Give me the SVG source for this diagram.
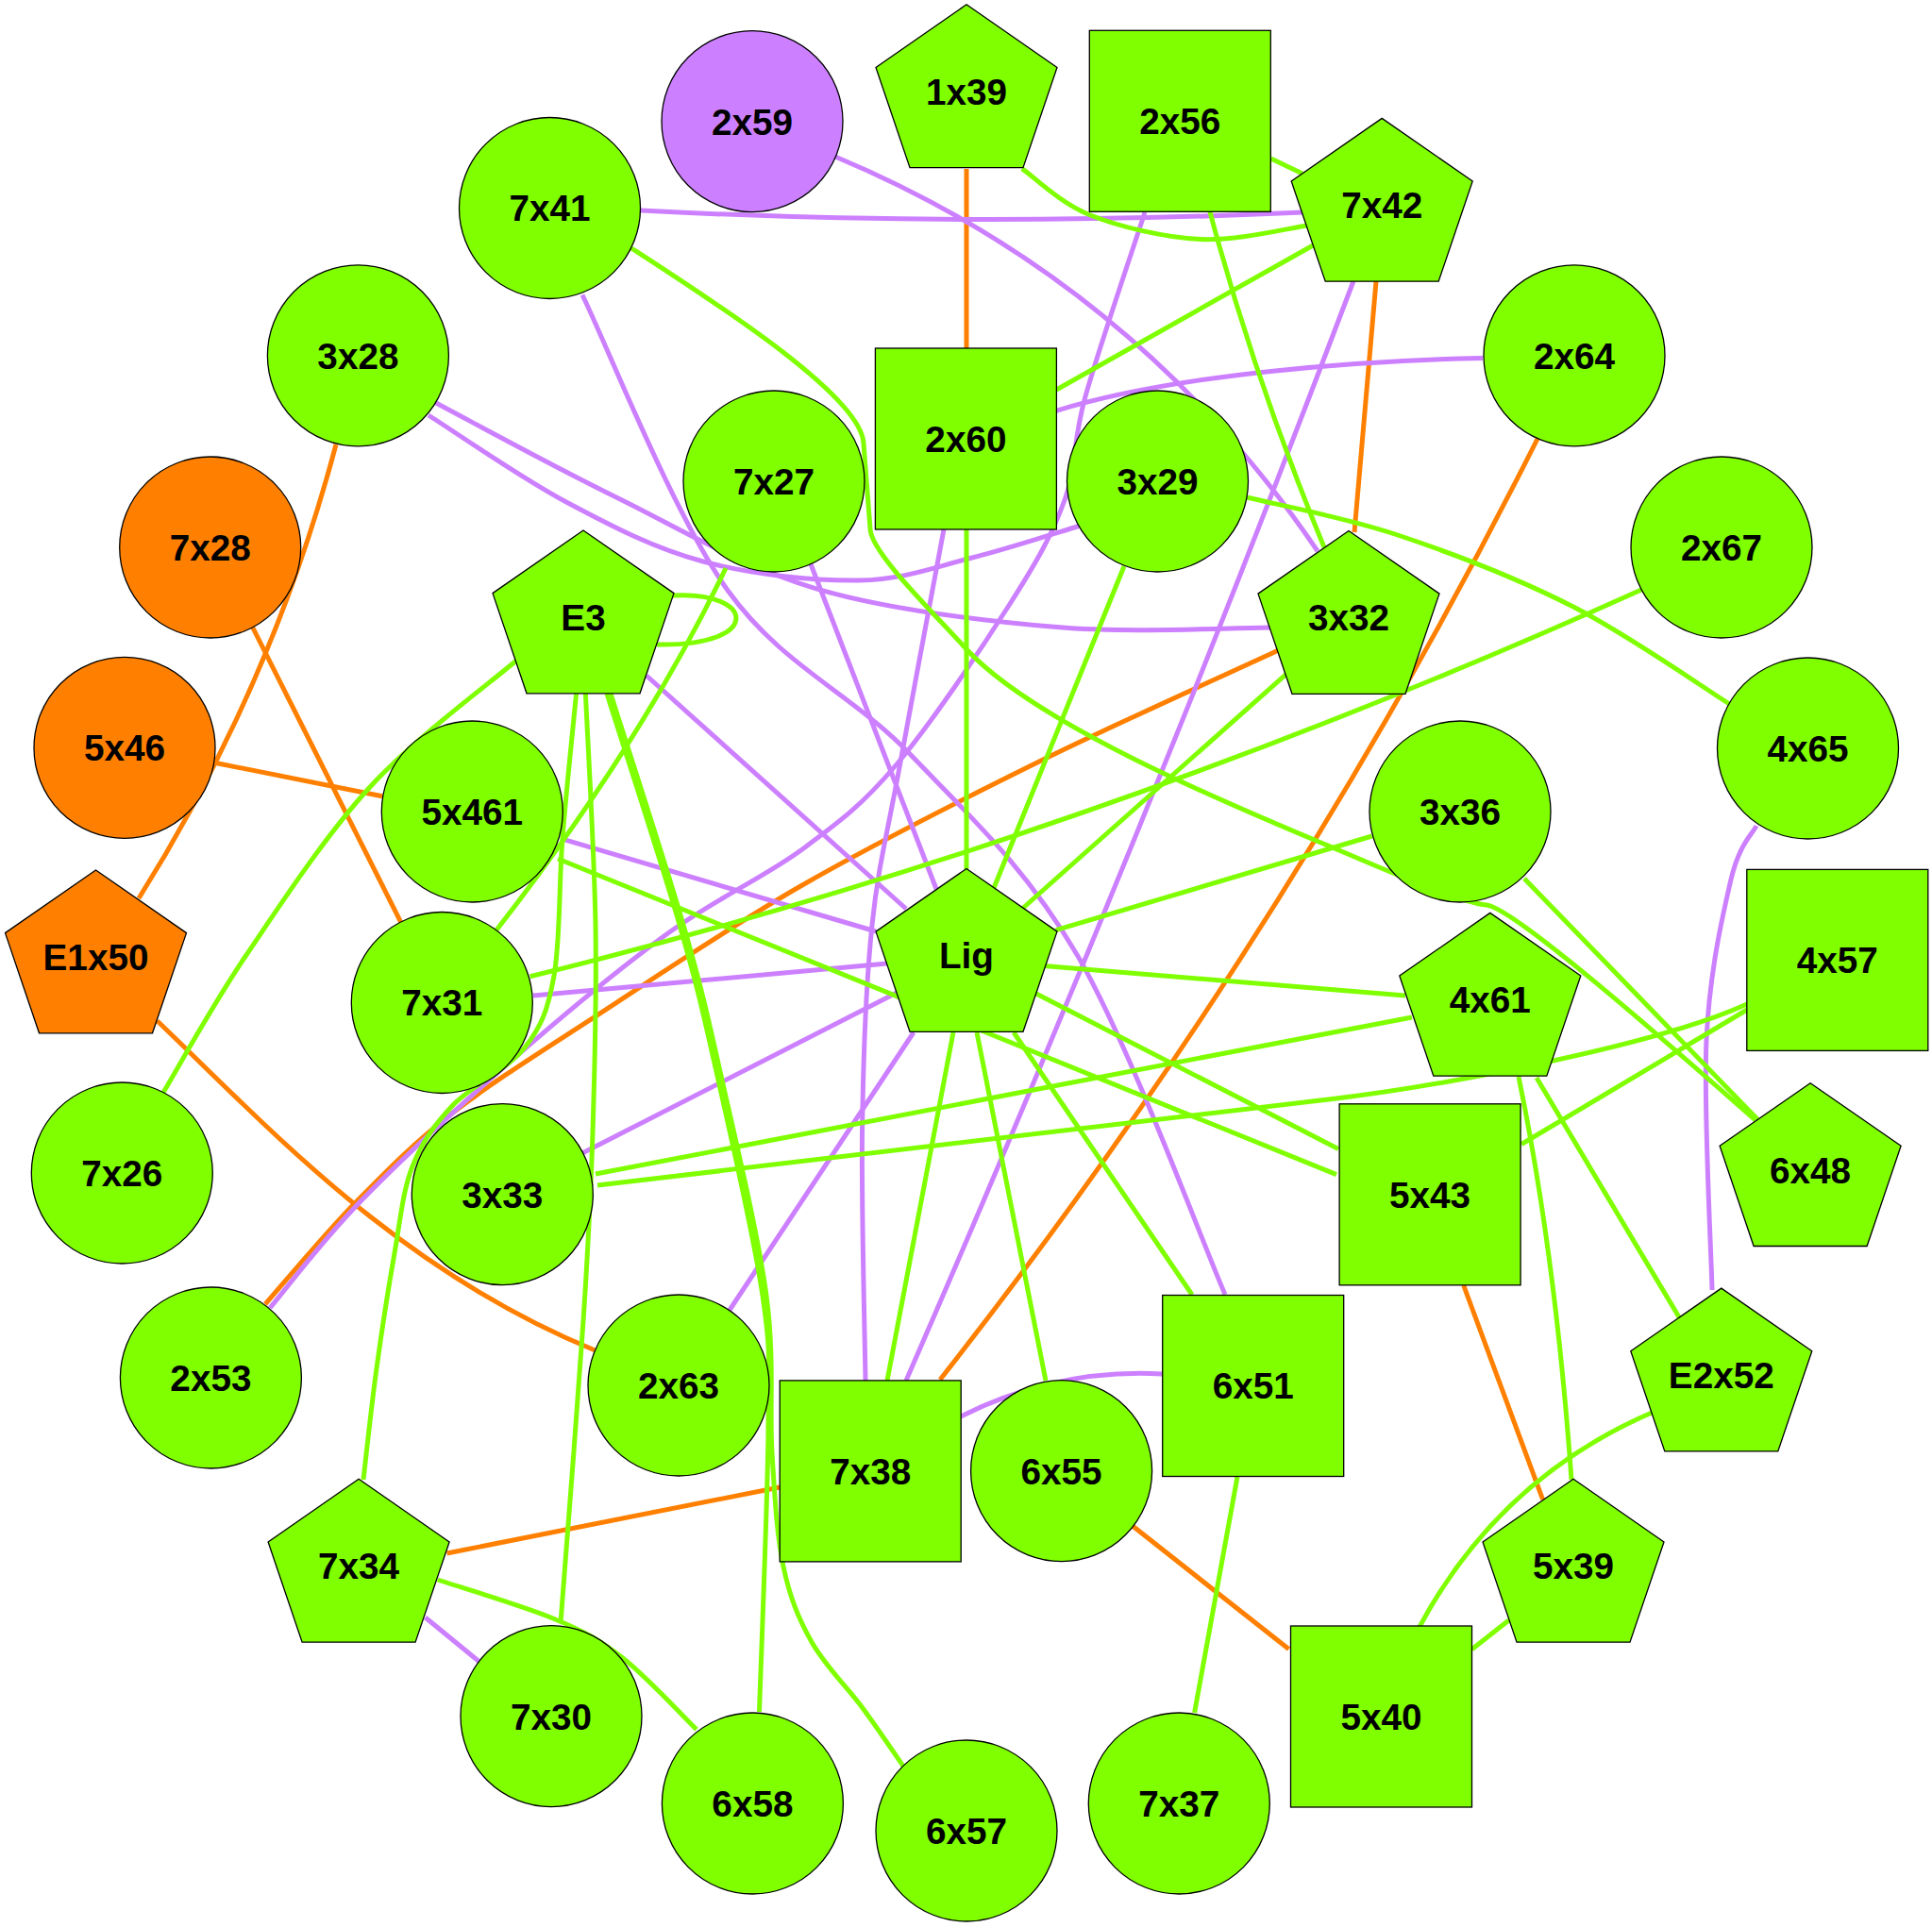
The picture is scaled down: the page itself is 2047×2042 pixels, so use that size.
<svg xmlns="http://www.w3.org/2000/svg" width="2047" height="2042" viewBox="0 0 2047 2042">
<style>
.n{stroke:#000;stroke-width:1.3}
.g{fill:#7fff00}.p{fill:#cc80ff}.o{fill:#ff8000}
text{font-family:"Liberation Sans",Arial,sans-serif;font-weight:bold;font-size:38.7px;text-anchor:middle;fill:#000}
.e{fill:none;stroke-width:5}
.eg{stroke:#7fff00}.ep{stroke:#cc80ff}.eo{stroke:#ff8000}
</style>
<rect width="2047" height="2042" fill="#fff"/>
<g id="edges">
<path class="e eo" d="M1024,179 L1024,369.6"/>
<path class="e eo" d="M1458,298 L1435,564"/>
<path class="e eo" d="M1630,463 Q1363,995 996,1462"/>
<path class="e eo" d="M1353.6,689.6 C1311.3,709.3 1183.9,766.1 1100,807.5 C1016.1,848.9 927.9,893.3 850,938 C772.1,982.7 694.4,1035.6 632.7,1075.8 C571,1116 522.8,1145.8 480,1179 C437.2,1212.2 409.2,1241.2 376,1275 C342.8,1308.8 296.8,1364.2 281,1382"/>
<path class="e eo" d="M356,471 Q288,727.5 147,952"/>
<path class="e eo" d="M267.8,665 L424.5,976.8"/>
<path class="e eo" d="M228.6,808.5 L405,843.7"/>
<path class="e eo" d="M166.5,1081.7 C280,1190 420,1345 630,1430.8"/>
<path class="e eo" d="M473.5,1646 L826,1576"/>
<path class="e eo" d="M1200,1617 L1365.5,1747.5"/>
<path class="e eo" d="M1550.7,1362 L1634.6,1589"/>
<path class="e ep" d="M885,166 Q1202.5,299 1396,584"/>
<path class="e ep" d="M679,223 Q1024,241 1380,225"/>
<path class="e ep" d="M617,312.5 C642.6,364.6 712.8,544 770.6,625 C828.4,706 901.8,734 963.6,798.6 C1025.4,863.2 1085.9,917 1141.6,1012.5 C1197.3,1108 1271.9,1311.9 1298,1371.8"/>
<path class="e ep" d="M454,440 C478.3,455.3 551.5,506.2 600,532 C648.5,557.8 693.3,581.2 745,595 C796.7,608.8 862.5,615.7 910,615 C957.5,614.3 991.2,600.6 1030,591 C1068.8,581.4 1124.2,563.1 1143,557.5"/>
<path class="e ep" d="M460,426 C492.2,442.8 585.7,494 653,527 C720.3,560 786.2,600.6 864,623.6 C941.8,646.6 1039.7,657.7 1120,664.6 C1200.3,671.5 1308.3,664.9 1346,665"/>
<path class="e ep" d="M1571,379.5 C1450,382 1250,395 1119,435.3"/>
<path class="e ep" d="M1213,225 C1202.5,257.5 1164.2,369.2 1150,420 C1135.8,470.8 1141.3,493.3 1128,530 C1114.7,566.7 1099.7,593.3 1070,640 C1040.3,686.7 986.7,766.7 950,810 C913.3,853.3 890.2,870.3 850,900 C809.8,929.7 759.3,951.7 709,988 C658.8,1024.3 602.7,1070.8 548.5,1118 C494.3,1165.2 427.75,1226.3 384,1271 C340.25,1315.7 302.3,1366.8 286,1386"/>
<path class="e ep" d="M1434,298 Q1214,880 960,1463"/>
<path class="e ep" d="M1000,561 C992.2,603 965.7,743.2 953,813 C940.3,882.8 930.6,916.5 924,980 C917.4,1043.5 914.8,1113.5 913.6,1194 C912.4,1274.5 916.4,1418.2 917,1463"/>
<path class="e ep" d="M856.4,591 L992,942"/>
<path class="e ep" d="M685,716 L960,963"/>
<path class="e ep" d="M597.6,889.7 L928,987"/>
<path class="e ep" d="M565,1055 L940,1021"/>
<path class="e ep" d="M950,1052 L617,1222"/>
<path class="e ep" d="M968,1094 L772.5,1389"/>
<path class="e ep" d="M1861,875 C1856.5,884.5 1842.8,894.2 1834,932 C1825.2,969.8 1811.3,1029.5 1808,1102 C1804.7,1174.5 1813,1322.8 1814,1367"/>
<path class="e ep" d="M1018,1501 Q1120,1450 1231,1456"/>
<path class="e ep" d="M450.6,1714 L508,1761"/>
<path class="e eg" d="M1082.8,178.6 C1094.8,186.8 1123.1,215.2 1154.6,227.7 C1186.1,240.2 1233.35,251.75 1272,253.6 C1310.65,255.45 1367.4,241.3 1386.5,238.8"/>
<path class="e eg" d="M1346.6,168 L1380,184"/>
<path class="e eg" d="M1282,224.6 Q1329,401 1403,580"/>
<path class="e eg" d="M1393,259 L1119.3,413"/>
<path class="e eg" d="M669,263 C760,322 913,420 915,470 L922,560 C922,585 990,650 1024,688 C1100,770 1314,857 1414,899 C1464,920 1545,956 1575,959 C1605,962 1780,1117 1860,1187"/>
<path class="e eg" d="M1024,561 L1024,921"/>
<path class="e eg" d="M1191,600 L1053,941"/>
<path class="e eg" d="M1321,527 C1347.7,533.7 1423.3,547.7 1481,567 C1538.7,586.3 1608.2,613 1667,643 C1725.8,673 1806.2,729.7 1834,747"/>
<path class="e eg" d="M1362.5,714.6 L1083,963"/>
<path class="e eg" d="M1739,625 Q1150,890 561.6,1034.8"/>
<path class="e eg" d="M1453.6,886 L1118.7,985.7"/>
<path class="e eg" d="M1615,931 L1863,1187"/>
<path class="e eg" d="M1100,1023 L1489,1055"/>
<path class="e eg" d="M1096,1052 L1418,1217.5"/>
<path class="e eg" d="M1074,1094 L1263,1372"/>
<path class="e eg" d="M1010,1094 L940,1463"/>
<path class="e eg" d="M1035,1094 L1108,1463"/>
<path class="e eg" d="M1496,1078 L631,1244"/>
<path class="e eg" d="M1851,1064 C1750,1110 1516,1152 1416,1164 L633,1256"/>
<path class="e eg" d="M1851,1070 L1612,1212.5"/>
<path class="e eg" d="M1609,1141 Q1648,1330 1665,1568"/>
<path class="e eg" d="M1628,1142 L1781.5,1400"/>
<path class="e eg" d="M1750,1497 Q1588,1567 1504,1724"/>
<path class="e eg" d="M1598.6,1717 L1559.5,1747.7"/>
<path class="e eg" d="M1311,1565 L1265.6,1815"/>
<path class="e eg" d="M713,631 C800,626 810,685 696,683"/>
<path class="e eg" d="M547,700 C521.2,722.3 439.7,782 392,834 C344.3,886 297.5,958.1 261,1012 C224.5,1065.9 187.7,1133.3 173,1157.6"/>
<path class="e eg" d="M610.6,735 C608.2,760.5 599.9,838.2 596,888 C592.1,937.8 593.7,997 587,1034 C580.3,1071 573.8,1087.2 556,1110 C538.2,1132.8 499.8,1150 480,1171 C460.2,1192 447.3,1209.8 437,1236 C426.7,1262.2 424.3,1292.3 418,1328 C411.7,1363.7 404.5,1410 399,1450 C393.5,1490 387.3,1548.3 385,1568"/>
<path class="e eg" d="M620.4,735 C622.2,775.8 629.7,902.5 631,980 C632.3,1057.5 630.2,1130 628,1200 C625.8,1270 623.7,1313.3 618,1400 C612.3,1486.7 598,1666.7 594,1720"/>
<path class="e eg" d="M643,735 C655.8,775.8 700.5,912.5 720,980 C739.5,1047.5 745.3,1074.5 760,1140 C774.7,1205.5 799,1310.5 808,1373 C817,1435.5 814.6,1441.5 814,1515 C813.4,1588.5 806.1,1764.2 804.5,1814"/>
<path class="e eg" d="M647,735 C659.8,775.8 704.5,912.5 724,980 C743.5,1047.5 749.3,1074.5 764,1140 C778.7,1205.5 803,1306.3 812,1373 C821,1439.7 815,1492.2 818,1540 C821,1587.8 823,1626.7 830,1660 C837,1693.3 846,1715 860,1740 C874,1765 897.8,1788.1 914,1810 C930.2,1831.9 949.8,1861.3 957,1871.5"/>
<path class="e eg" d="M769,602 Q681,786 525.7,986"/>
<path class="e eg" d="M591,910 L1416,1244.6"/>
<path class="e eg" d="M463.7,1674 C484.4,1681 555.15,1701.9 587.8,1715.7 C620.45,1729.5 634.6,1737.2 659.6,1756.7 C684.6,1776.2 724.9,1820 738,1832.6"/>
</g>
<g id="node-2x59"><circle class="n p" cx="797" cy="128.6" r="96"/><text x="797" y="142.5">2x59</text></g>
<g id="node-1x39"><polygon class="n g" points="1024,4.8 1120,71.4 1084,177.6 964,177.6 928,71.4"/><text x="1024" y="110.7">1x39</text></g>
<g id="node-2x56"><rect class="n g" x="1154.3" y="32.3" width="192" height="192"/><text x="1250.3" y="142.2">2x56</text></g>
<g id="node-7x42"><polygon class="n g" points="1464.2,125.4 1560.2,192 1524.2,298.2 1404.2,298.2 1368.2,192"/><text x="1464.2" y="231.3">7x42</text></g>
<g id="node-7x41"><circle class="n g" cx="582.5" cy="220.5" r="96"/><text x="582.5" y="234.4">7x41</text></g>
<g id="node-3x28"><circle class="n g" cx="379.4" cy="376.8" r="96"/><text x="379.4" y="390.7">3x28</text></g>
<g id="node-2x64"><circle class="n g" cx="1668" cy="376.8" r="96"/><text x="1668" y="390.7">2x64</text></g>
<g id="node-7x27"><circle class="n g" cx="820" cy="510" r="96"/><text x="820" y="523.9">7x27</text></g>
<g id="node-2x60"><rect class="n g" x="927.4" y="369" width="192" height="192"/><text x="1023.4" y="478.9">2x60</text></g>
<g id="node-3x29"><circle class="n g" cx="1226.5" cy="510" r="96"/><text x="1226.5" y="523.9">3x29</text></g>
<g id="node-7x28"><circle class="n o" cx="222.7" cy="580" r="96"/><text x="222.7" y="593.9">7x28</text></g>
<g id="node-2x67"><circle class="n g" cx="1824" cy="580" r="96"/><text x="1824" y="593.9">2x67</text></g>
<g id="node-E3"><polygon class="n g" points="618,562 714,628.6 678,734.8 558,734.8 522,628.6"/><text x="618" y="667.9">E3</text></g>
<g id="node-3x32"><polygon class="n g" points="1429,562.5 1525,629.1 1489,735.3 1369,735.3 1333,629.1"/><text x="1429" y="668.4">3x32</text></g>
<g id="node-5x46"><circle class="n o" cx="132" cy="792.4" r="96"/><text x="132" y="806.3">5x46</text></g>
<g id="node-4x65"><circle class="n g" cx="1915.5" cy="793" r="96"/><text x="1915.5" y="806.9">4x65</text></g>
<g id="node-5x461"><circle class="n g" cx="500.3" cy="860" r="96"/><text x="500.3" y="873.9">5x461</text></g>
<g id="node-3x36"><circle class="n g" cx="1547" cy="860" r="96"/><text x="1547" y="873.9">3x36</text></g>
<g id="node-E1x50"><polygon class="n o" points="101.5,922 197.5,988.6 161.5,1094.8 41.5,1094.8 5.5,988.6"/><text x="101.5" y="1027.9">E1x50</text></g>
<g id="node-Lig"><polygon class="n g" points="1024,920.5 1120,987.1 1084,1093.3 964,1093.3 928,987.1"/><text x="1024" y="1026.4">Lig</text></g>
<g id="node-4x57"><rect class="n g" x="1850.8" y="921.4" width="192" height="192"/><text x="1946.8" y="1031.3">4x57</text></g>
<g id="node-7x31"><circle class="n g" cx="468.3" cy="1062.5" r="96"/><text x="468.3" y="1076.4">7x31</text></g>
<g id="node-4x61"><polygon class="n g" points="1578.8,967.4 1674.8,1034 1638.8,1140.2 1518.8,1140.2 1482.8,1034"/><text x="1578.8" y="1073.3">4x61</text></g>
<g id="node-7x26"><circle class="n g" cx="129.3" cy="1243" r="96"/><text x="129.3" y="1256.9">7x26</text></g>
<g id="node-6x48"><polygon class="n g" points="1918.1,1147.7 2014.1,1214.3 1978.1,1320.5 1858.1,1320.5 1822.1,1214.3"/><text x="1918.1" y="1253.6">6x48</text></g>
<g id="node-3x33"><circle class="n g" cx="532.3" cy="1265.6" r="96"/><text x="532.3" y="1279.5">3x33</text></g>
<g id="node-5x43"><rect class="n g" x="1419.1" y="1169.8" width="192" height="192"/><text x="1515.1" y="1279.7">5x43</text></g>
<g id="node-2x53"><circle class="n g" cx="223.4" cy="1460" r="96"/><text x="223.4" y="1473.9">2x53</text></g>
<g id="node-2x63"><circle class="n g" cx="719" cy="1468" r="96"/><text x="719" y="1481.9">2x63</text></g>
<g id="node-6x51"><rect class="n g" x="1231.7" y="1372.5" width="192" height="192"/><text x="1327.7" y="1482.4">6x51</text></g>
<g id="node-E2x52"><polygon class="n g" points="1823.8,1365.1 1919.8,1431.7 1883.8,1537.9 1763.8,1537.9 1727.8,1431.7"/><text x="1823.8" y="1471">E2x52</text></g>
<g id="node-7x38"><rect class="n g" x="826.2" y="1462.9" width="192" height="192"/><text x="922.2" y="1572.8">7x38</text></g>
<g id="node-6x55"><circle class="n g" cx="1124.6" cy="1558.7" r="96"/><text x="1124.6" y="1572.6">6x55</text></g>
<g id="node-7x34"><polygon class="n g" points="380.1,1567.3 476.1,1633.9 440.1,1740.1 320.1,1740.1 284.1,1633.9"/><text x="380.1" y="1673.2">7x34</text></g>
<g id="node-5x39"><polygon class="n g" points="1667,1567.3 1763,1633.9 1727,1740.1 1607,1740.1 1571,1633.9"/><text x="1667" y="1673.2">5x39</text></g>
<g id="node-7x30"><circle class="n g" cx="584" cy="1818.6" r="96"/><text x="584" y="1832.5">7x30</text></g>
<g id="node-5x40"><rect class="n g" x="1367.5" y="1723" width="192" height="192"/><text x="1463.5" y="1832.9">5x40</text></g>
<g id="node-6x58"><circle class="n g" cx="797.4" cy="1911" r="96"/><text x="797.4" y="1924.9">6x58</text></g>
<g id="node-7x37"><circle class="n g" cx="1249.3" cy="1911" r="96"/><text x="1249.3" y="1924.9">7x37</text></g>
<g id="node-6x57"><circle class="n g" cx="1024" cy="1940" r="96"/><text x="1024" y="1953.9">6x57</text></g>
</svg>
